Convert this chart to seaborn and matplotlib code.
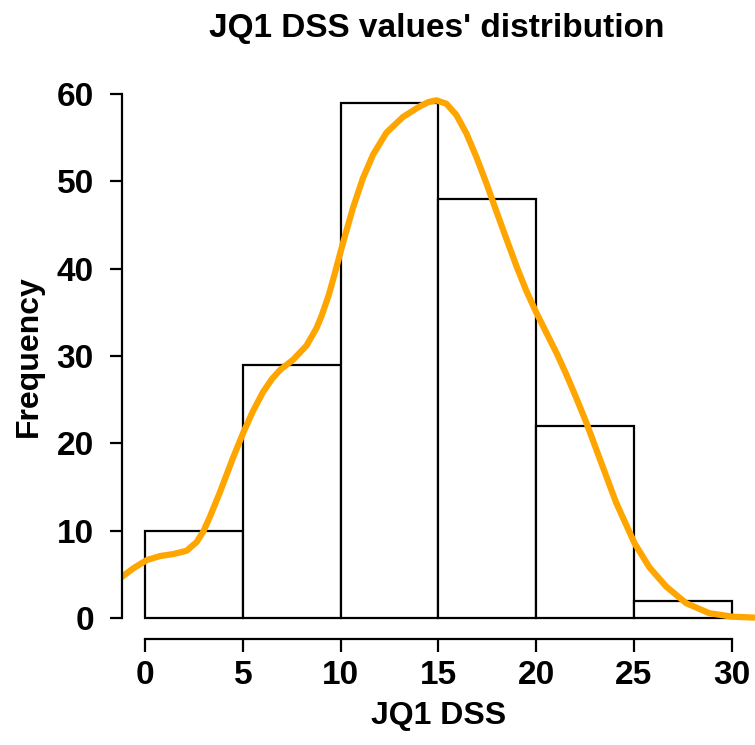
import matplotlib
matplotlib.use("Agg")
import matplotlib.pyplot as plt
import seaborn as sns

# Data
bin_edges = [0, 5, 10, 15, 20, 25, 30]
bin_counts = [10, 29, 59, 48, 22, 2]
bin_centers = [2.5, 7.5, 12.5, 17.5, 22.5, 27.5]

curve_x = [-1.28, -0.60, 0.09, 0.77, 1.45, 2.13, 2.64, 2.98, 3.32, 3.83, 4.17,
           4.51, 5.02, 5.50, 6.04, 6.50, 6.90, 7.58, 8.26, 8.77, 9.03, 9.40, 9.71,
           10.13, 10.64, 11.15, 11.67, 12.35, 13.20, 14.05, 14.50, 14.90, 15.42,
           15.93, 16.44, 16.95, 17.46, 17.97, 18.49, 19.00, 19.50, 20.01, 20.50,
           21.04, 21.55, 22.06, 22.57, 23.25, 24.10, 25.04, 25.80, 26.66, 27.68,
           28.87, 30.06, 31.17]
curve_y = [4.55, 5.69, 6.64, 7.10, 7.33, 7.71, 8.7, 9.9, 11.6, 14.4, 16.4,
           18.4, 21.2, 23.6, 25.9, 27.4, 28.4, 29.6, 31.2, 33.2, 34.6, 37.0, 39.5,
           43.0, 47.0, 50.4, 53.1, 55.6, 57.4, 58.6, 59.1, 59.3, 58.9,
           57.6, 55.5, 52.8, 49.8, 46.6, 43.4, 40.3, 37.5, 35.0, 32.8,
           30.4, 27.9, 25.2, 22.4, 18.3, 13.2, 8.56, 5.8, 3.6, 1.7,
           0.55, 0.15, 0.05]

x_ticks = [0, 5, 10, 15, 20, 25, 30]
y_ticks = [0, 10, 20, 30, 40, 50, 60]

sns.set_style("white")
plt.rcParams['font.family'] = ['Liberation Sans', 'DejaVu Sans']
plt.rcParams['font.weight'] = 'bold'
plt.rcParams['text.color'] = 'black'
plt.rcParams['axes.labelcolor'] = 'black'
plt.rcParams['xtick.color'] = 'black'
plt.rcParams['ytick.color'] = 'black'

fig = plt.figure(figsize=(7.55, 7.45), dpi=100)
ax = fig.add_axes([0.161, 0.1423, 0.839, 0.7594])

sns.histplot(x=bin_centers, weights=bin_counts, bins=bin_edges, ax=ax,
             color="white", edgecolor="black", linewidth=1.6, alpha=1, fill=True)
sns.lineplot(x=curve_x, y=curve_y, ax=ax, color="#FFA500", linewidth=4.5,
             sort=False, estimator=None)
for ln in ax.lines:
    ln.set_solid_joinstyle("round")
    ln.set_solid_capstyle("round")

ax.set_xlim(-1.2, 31.2)
ax.set_ylim(-2.4, 62.4)

for s in ["top", "right"]:
    ax.spines[s].set_visible(False)
for s in ["left", "bottom"]:
    ax.spines[s].set_visible(True)
    ax.spines[s].set_linewidth(1.6)
    ax.spines[s].set_color("black")
ax.spines["left"].set_bounds(0, 60)
ax.spines["bottom"].set_bounds(0, 30)

ax.set_xticks(x_ticks)
ax.set_yticks(y_ticks)
ax.set_xticklabels([str(t) for t in x_ticks])
ax.set_yticklabels([str(t) for t in y_ticks])
ax.tick_params(axis="both", direction="out", length=9, width=1.6, color="black",
               labelsize=24, left=True, bottom=True)
ax.tick_params(axis="x", pad=6)
ax.tick_params(axis="y", pad=11)
for lab in ax.get_xticklabels() + ax.get_yticklabels():
    lab.set_fontweight("bold")

ax.set_xlabel("JQ1 DSS", fontsize=23, fontweight="bold", labelpad=7, color="black")
ax.set_ylabel("Frequency", fontsize=23, fontweight="bold", labelpad=9, color="black")
fig.text(0.579, 0.962, "JQ1 DSS values' distribution", ha="center", va="center",
         fontsize=24, fontweight="bold", color="black")
ax.grid(False)

fig.savefig("out.png", dpi=100)
